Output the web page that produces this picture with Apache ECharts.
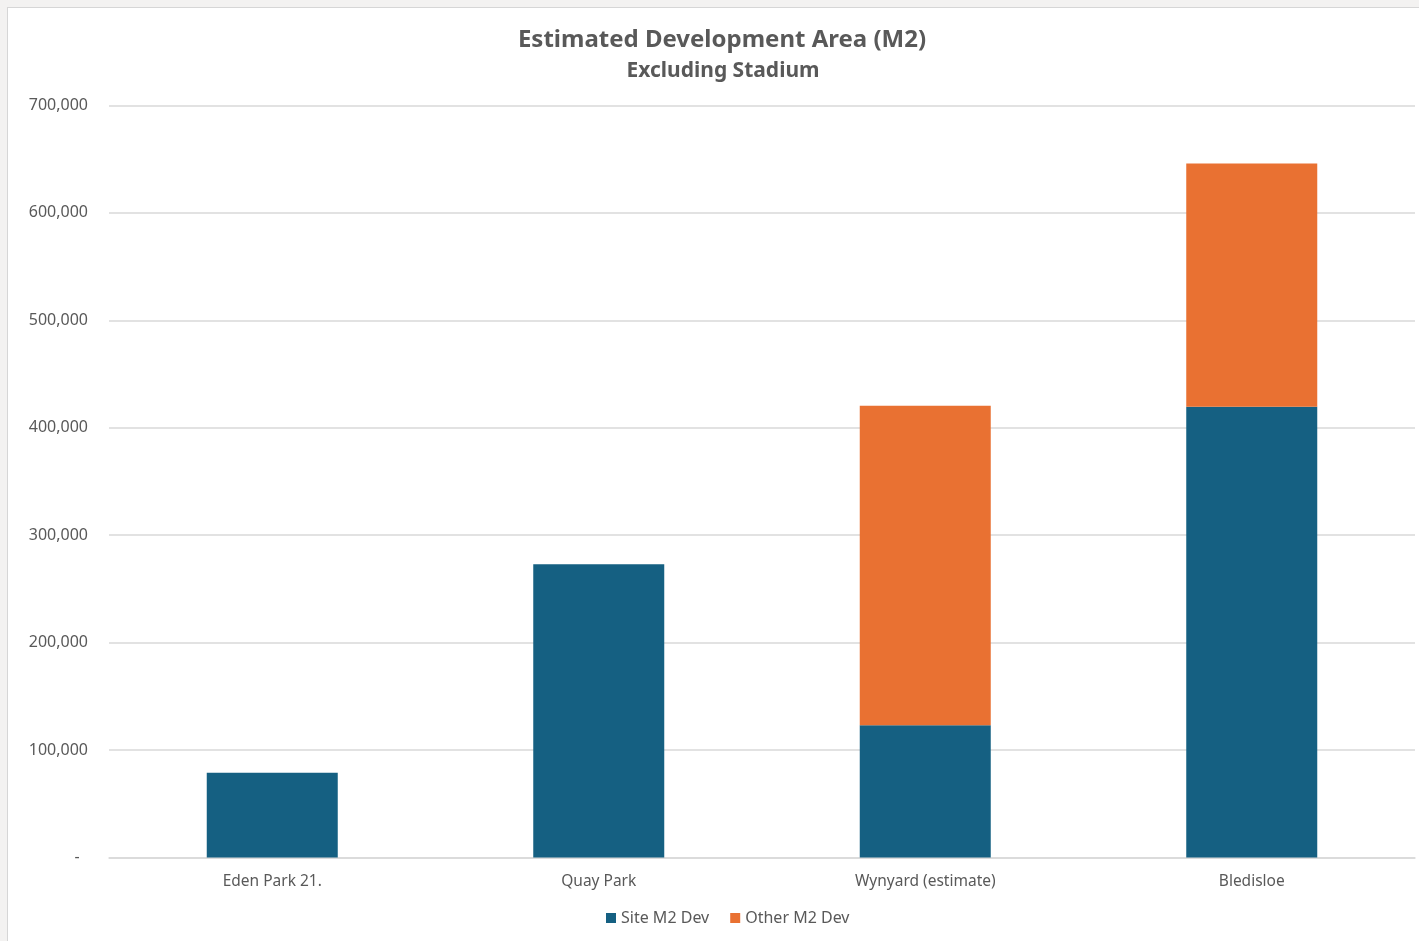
<!DOCTYPE html>
<html>
<head>
<meta charset="utf-8">
<script src="https://cdn.jsdelivr.net/npm/echarts@6/dist/echarts.min.js"></script>
<style>
  html, body { margin: 0; padding: 0; width: 1419px; height: 941px; overflow: hidden; background: #f3f2f1; }
  #frame { position: absolute; left: 7px; top: 7px; width: 1440px; height: 960px; background: #ffffff; border: 1px solid #d6d6d6; box-sizing: border-box; }
  #chart { position: absolute; left: 0; top: 0; width: 1419px; height: 941px; }
</style>
</head>
<body>
<div id="frame"></div>
<div id="chart"></div>
<script>
const categories = ["Eden Park 21.", "Quay Park", "Wynyard (estimate)", "Bledisloe"];
const siteM2Dev = [79000, 273000, 123000, 419500];
const otherM2Dev = [0, 0, 297500, 226500];
const seriesNames = ["Site M2 Dev", "Other M2 Dev"];
const titleText = "Estimated Development Area (M2)";
const subtitleText = "Excluding Stadium";

const FONT = "'Noto Sans', 'Open Sans', sans-serif";
const chart = echarts.init(document.getElementById('chart'), null, { renderer: 'canvas' });
chart.setOption({
  backgroundColor: 'transparent',
  animation: false,
  title: [
    {
      text: titleText,
      left: 717,
      textAlign: 'center',
      top: 23,
      textStyle: { fontFamily: FONT, fontSize: 24, fontWeight: 'bold', color: '#595959' }
    },
    {
      text: subtitleText,
      left: 718,
      textAlign: 'center',
      top: 56,
      textStyle: { fontFamily: FONT, fontSize: 21, fontWeight: 'bold', color: '#595959' }
    }
  ],
  legend: {
    data: seriesNames,
    left: 601,
    top: 905,
    itemWidth: 10,
    itemHeight: 10,
    itemGap: 21,
    icon: 'rect',
    textStyle: { fontFamily: FONT, fontSize: 16, color: '#595959' }
  },
  grid: { left: 109, right: 4, top: 105.5, bottom: 83.5, containLabel: false },
  xAxis: {
    type: 'category',
    data: categories,
    axisLine: { show: true, lineStyle: { color: '#d9d9d9', width: 1.5 } },
    axisTick: { show: false },
    axisLabel: { fontFamily: FONT, fontSize: 15.5, color: '#595959', margin: 16 }
  },
  yAxis: {
    type: 'value',
    min: 0,
    max: 700000,
    interval: 100000,
    axisLine: { show: false },
    axisTick: { show: false },
    splitLine: { lineStyle: { color: '#d9d9d9', width: 1.5 } },
    axisLabel: {
      fontFamily: FONT, fontSize: 16, color: '#595959', margin: 21,
      formatter: v => v === 0 ? '-  ' : v.toLocaleString('en-US')
    }
  },
  series: [
    {
      name: seriesNames[0], type: 'bar', stack: 'total', data: siteM2Dev,
      barWidth: 131, itemStyle: { color: '#156082' }
    },
    {
      name: seriesNames[1], type: 'bar', stack: 'total', data: otherM2Dev,
      barWidth: 131, itemStyle: { color: '#e97132' }
    }
  ]
});
</script>
</body>
</html>
